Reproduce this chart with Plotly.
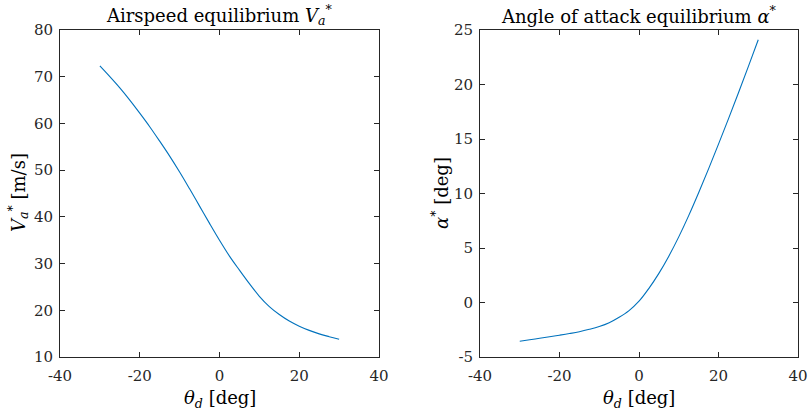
import plotly.graph_objects as go

theta_d = [-30, -27.5, -25, -22.5, -20, -17.5, -15, -12.5, -10, -7.5, -5, -2.5, 0,
           2.5, 5, 7.5, 10, 12.5, 15, 17.5, 20, 22.5, 25, 27.5, 30]
airspeed_eq = [72.3, 70.0, 67.6, 65.0, 62.2, 59.3, 56.2, 53.0, 49.6, 46.0, 42.3, 38.6, 35.0,
               31.6, 28.6, 25.7, 23.0, 20.8, 19.1, 17.7, 16.6, 15.7, 14.95, 14.35, 13.8]
alpha_eq = [-3.55, -3.42, -3.28, -3.14, -3.0, -2.85, -2.68, -2.46, -2.2, -1.85, -1.35, -0.74, 0.12,
            1.3, 2.67, 4.25, 6.02, 7.97, 10.07, 12.26, 14.53, 16.85, 19.22, 21.64, 24.1]

x_ticks = [-40, -20, 0, 20, 40]
x_ticktext = ["-40", "-20", "0", "20", "40"]
v_ticks = [10, 20, 30, 40, 50, 60, 70, 80]
v_ticktext = ["10", "20", "30", "40", "50", "60", "70", "80"]
a_ticks = [-5, 0, 5, 10, 15, 20, 25]
a_ticktext = ["-5", "0", "5", "10", "15", "20", "25"]

FONT = "DejaVu Serif, serif"
AX = "#262626"
LINE = "#0072BD"

fig = go.Figure()
fig.add_trace(go.Scatter(x=theta_d, y=airspeed_eq, mode="lines",
                         line=dict(color=LINE, width=1.1, shape="spline", smoothing=1.0),
                         xaxis="x", yaxis="y", showlegend=False, hoverinfo="skip"))
fig.add_trace(go.Scatter(x=theta_d, y=alpha_eq, mode="lines",
                         line=dict(color=LINE, width=1.1, shape="spline", smoothing=1.0),
                         xaxis="x2", yaxis="y2", showlegend=False, hoverinfo="skip"))

W, H = 808, 418


def fx(px):
    return px / W


def fy(py):
    return 1 - py / H


axis_common = dict(showgrid=False, zeroline=False, showline=True, linecolor=AX, linewidth=1,
                   mirror="allticks", ticks="inside", ticklen=5, tickcolor=AX, tickwidth=1,
                   automargin=False, tickfont=dict(family=FONT, size=15, color=AX))

fig.update_layout(
    template="none",
    width=W, height=H, margin=dict(l=0, r=0, t=0, b=0, autoexpand=False),
    paper_bgcolor="white", plot_bgcolor="white",
    xaxis=dict(domain=[fx(60), fx(379)], range=[-40, 40], tickvals=x_ticks, ticktext=x_ticktext,
               anchor="y", ticklabelstandoff=5, **axis_common),
    yaxis=dict(domain=[fy(357), fy(30)], range=[10, 80], tickvals=v_ticks, ticktext=v_ticktext,
               anchor="x", ticklabelstandoff=3, **axis_common),
    xaxis2=dict(domain=[fx(480), fx(798)], range=[-40, 40], tickvals=x_ticks, ticktext=x_ticktext,
                anchor="y2", ticklabelstandoff=5, **axis_common),
    yaxis2=dict(domain=[fy(357), fy(30)], range=[-5, 25], tickvals=a_ticks, ticktext=a_ticktext,
                anchor="x2", ticklabelstandoff=3, **axis_common),
)

ann_font = dict(family=FONT, size=18, color="black")
annotations = [
    dict(text="Airspeed equilibrium <i>V</i><sub><i>a</i></sub><sup>*</sup>", x=fx(219.5), y=fy(15),
         xref="paper", yref="paper", showarrow=False, font=ann_font, xanchor="center", yanchor="middle"),
    dict(text="Angle of attack equilibrium <i>α</i><sup>*</sup>", x=fx(639), y=fy(15),
         xref="paper", yref="paper", showarrow=False, font=ann_font, xanchor="center", yanchor="middle"),
    dict(text="<i>θ</i><sub><i>d</i></sub> [deg]", x=fx(219.5), y=fy(399),
         xref="paper", yref="paper", showarrow=False, font=ann_font, xanchor="center", yanchor="middle"),
    dict(text="<i>θ</i><sub><i>d</i></sub> [deg]", x=fx(639), y=fy(399),
         xref="paper", yref="paper", showarrow=False, font=ann_font, xanchor="center", yanchor="middle"),
    dict(text="<i>V</i><sub><i>a</i></sub><sup>*</sup> [m/s]", x=fx(18), y=fy(193),
         xref="paper", yref="paper", showarrow=False, font=ann_font, textangle=-90,
         xanchor="center", yanchor="middle"),
    dict(text="<i>α</i><sup>*</sup> [deg]", x=fx(440), y=fy(193),
         xref="paper", yref="paper", showarrow=False, font=ann_font, textangle=-90,
         xanchor="center", yanchor="middle"),
]
fig.update_layout(annotations=annotations)

fig.write_html("out.html")
